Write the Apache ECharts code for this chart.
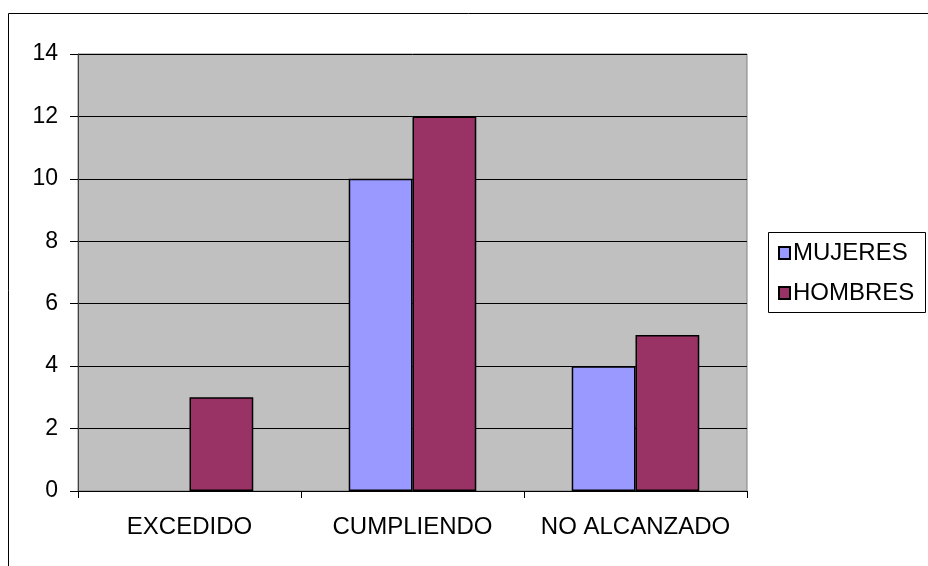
<!DOCTYPE html>
<html>
<head>
<meta charset="utf-8">
<script src="https://cdn.jsdelivr.net/npm/echarts@6/dist/echarts.min.js"></script>
<style>
  html, body { margin: 0; padding: 0; background: #ffffff; }
  #chart { width: 928px; height: 566px; }
</style>
</head>
<body>
<div id="chart"></div>
<script>
// Categories and values per group
const categories = ['EXCEDIDO', 'CUMPLIENDO', 'NO ALCANZADO'];
const mujeres = [0, 10, 4];
const hombres = [3, 12, 5];
const yTicks = { min: 0, max: 14, interval: 2 };

const FONT = '"Liberation Sans", Arial, sans-serif';
const FS = 24;

// zero-height bars get no outline
const asBarData = arr => arr.map(v => v === 0 ? { value: v, itemStyle: { borderWidth: 0 } } : v);

const chart = echarts.init(document.getElementById('chart'));

chart.setOption({
  animation: false,
  backgroundColor: '#ffffff',
  textStyle: { fontFamily: FONT },
  graphic: [
    // outer chart frame
    { type: 'rect', silent: true, z: 0,
      shape: { x: 8.5, y: 13.5, width: 940, height: 580 },
      style: { fill: 'none', stroke: '#000000', lineWidth: 1 } },
    // legend frame
    { type: 'rect', silent: true, z: 0,
      shape: { x: 768.5, y: 232.5, width: 157, height: 80 },
      style: { fill: '#ffffff', stroke: '#000000', lineWidth: 1 } }
  ],
  grid: {
    left: 78, right: 928 - 747, top: 54, bottom: 566 - 491,
    show: true, backgroundColor: '#C0C0C0', borderColor: '#808080', borderWidth: 1
  },
  legend: {
    orient: 'vertical',
    left: 773, top: 236,
    itemWidth: 11, itemHeight: 12, itemGap: 16,
    icon: 'rect',
    textStyle: { fontFamily: FONT, fontSize: FS, color: '#000000', padding: [0, 0, 0, -2] },
    data: ['MUJERES', 'HOMBRES']
  },
  xAxis: {
    type: 'category',
    data: categories,
    boundaryGap: true,
    axisLine: { lineStyle: { color: '#000000', width: 1 } },
    axisTick: { show: true, alignWithLabel: false, length: 7, lineStyle: { color: '#000000' } },
    axisLabel: { interval: 0, fontFamily: FONT, fontSize: FS, color: '#000000', margin: 24 }
  },
  yAxis: {
    type: 'value',
    min: yTicks.min, max: yTicks.max, interval: yTicks.interval,
    axisLine: { show: true, lineStyle: { color: '#404040', width: 1 } },
    axisTick: { show: true, length: 8, lineStyle: { color: '#000000' } },
    axisLabel: { fontFamily: FONT, fontSize: FS - 1, color: '#000000', margin: 20 },
    splitLine: { show: true, lineStyle: { color: '#000000', width: 1 } }
  },
  series: [
    {
      name: 'MUJERES', type: 'bar', data: asBarData(mujeres),
      barGap: '0%', barCategoryGap: '42.8%',
      itemStyle: { color: '#9999FF', borderColor: '#000000', borderWidth: 1.5 }
    },
    {
      name: 'HOMBRES', type: 'bar', data: asBarData(hombres),
      barGap: '0%', barCategoryGap: '42.8%',
      itemStyle: { color: '#993366', borderColor: '#000000', borderWidth: 1.5 }
    }
  ]
});
</script>
</body>
</html>
